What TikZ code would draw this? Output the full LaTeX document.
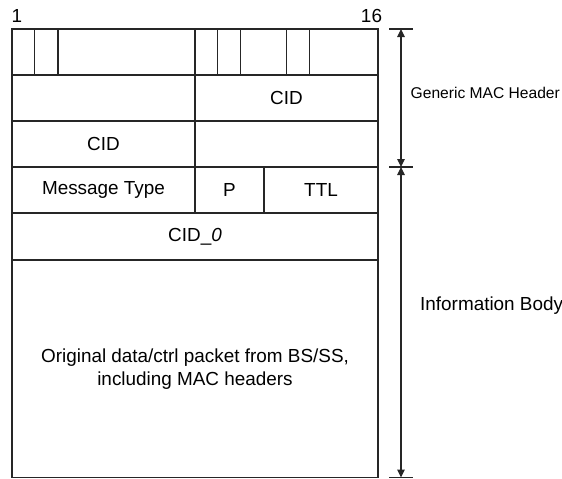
\documentclass[tikz,border=0pt]{standalone}
\usepackage{fontspec}
\setmainfont{Liberation Sans}
\usetikzlibrary{arrows.meta}
\begin{document}
\begin{tikzpicture}[x=1pt,y=-1pt,
  rule/.style={draw=black!85, line width=1.3pt},
  txt/.style={font=\fontsize{18.9}{23}\selectfont, inner sep=0pt, align=center},
  note/.style={font=\fontsize{15.6}{18}\selectfont, inner sep=0pt, anchor=west},
  dimline/.style={draw=black!85, line width=1.1pt, {Triangle[length=8pt,width=7.5pt]}-{Triangle[length=8pt,width=7.5pt]}},
  tick/.style={draw=black!85, line width=1.1pt}]
\useasboundingbox (0,0) rectangle (562,479);

% frame and row boundaries
\draw[rule] (12,29) rectangle (378,477.5);
\foreach \y in {75,121,167,213,260} \draw[rule] (12,\y) -- (378,\y);
% column splits
\draw[rule] (195,29) -- (195,167);
\draw[rule] (195,167) -- (195,213);
\draw[rule] (264,167) -- (264,213);
\foreach \x in {34.7,58,217.7,240.7,286.7,309.7} \draw[rule] (\x,29) -- (\x,75);

% bit numbering
\node[txt] (b1) at (17,16) {1};
\node[txt] (b16) at (371.5,16) {16};

% field labels
\node[txt] (cidA) at (286.5,98) {CID};
\node[txt] (cidB) at (103.5,144) {CID};
\node[txt] (mtype) at (103.5,190) {Message Type};
\node[txt] (pflag) at (229.5,190) {P};
\node[txt] (ttl) at (321,190) {TTL};
\node[txt] (cid0) at (195,237) {CID\_\textit{0}};
\node[txt] (body) at (195,369) {Original data/ctrl packet from BS/SS,\\including MAC headers};

% extent markers
\coordinate (tTop) at (401,29);
\coordinate (tMid) at (401,167);
\coordinate (tBot) at (401,477.5);
\foreach \c in {tTop,tMid,tBot} \draw[tick] ([xshift=-12pt]\c) -- ([xshift=12pt]\c);
\draw[dimline] (tTop) -- (tMid);
\draw[dimline] (tMid) -- (tBot);

\node[note] (gmh) at (410.5,93) {Generic MAC Header};
\node[txt, anchor=west] (ib) at (420,306) {Information Body};
\end{tikzpicture}
\end{document}
